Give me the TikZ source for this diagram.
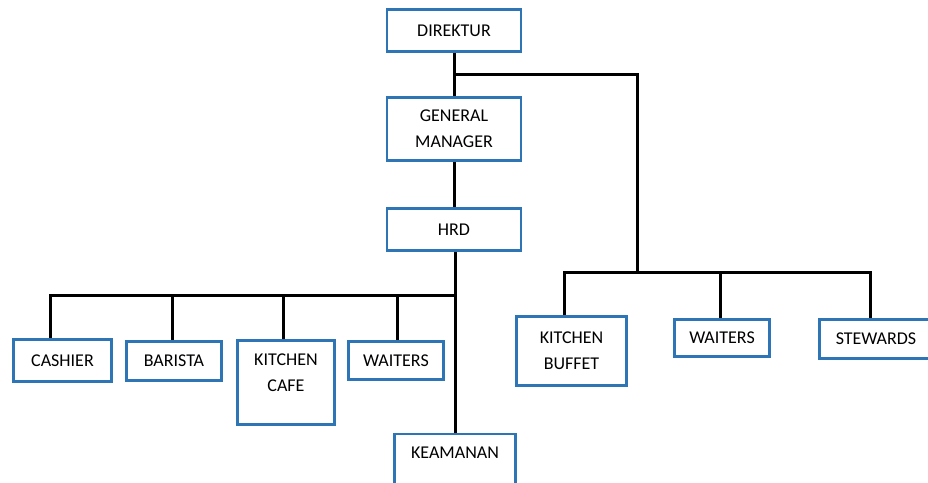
\documentclass[tikz,border=0pt]{standalone}
\usepackage{fontspec}
\setmainfont{Carlito}
\definecolor{boxblue}{RGB}{46,117,182}
\tikzset{unit/.style = {rectangle, draw=boxblue, line width=2.6pt, fill=white, align=center,
                        inner sep=0pt, font=\fontsize{18}{26}\selectfont},
         wire/.style = {line width=3pt, black, line join=miter}}

\begin{document}
\begin{tikzpicture}[x=1pt, y=-1pt]
    \useasboundingbox (0,0) rectangle (928,482);
    % top of the chart
    \node[unit, minimum width=134pt, minimum height=42pt] (dir) at (454,30.5) {DIREKTUR};
    \node[unit, minimum width=134pt, minimum height=63pt] (gm) at (454,129) {GENERAL\\MANAGER};
    \node[unit, minimum width=134pt, minimum height=42pt] (hrd) at (454,229.5) {HRD};
    % cafe side
    \node[unit, minimum width=98pt, minimum height=42pt] (cash) at (62.5,360.5) {CASHIER};
    \node[unit, minimum width=95pt, minimum height=39pt] (bar) at (174,361) {BARISTA};
    \node[unit, minimum width=97pt, minimum height=84pt, text depth=19pt] (kcafe) at (286,382.5) {KITCHEN\\CAFE};
    \node[unit, minimum width=95pt, minimum height=38pt] (wcafe) at (396,360.5) {WAITERS};
    \node[unit, minimum width=121pt, minimum height=54pt, text depth=16pt] (kea) at (455,461) {KEAMANAN};
    % buffet side
    \node[unit, minimum width=110pt, minimum height=69pt] (kbuf) at (571.5,351) {KITCHEN\\BUFFET};
    \node[unit, minimum width=95pt, minimum height=37pt] (wbuf) at (722,338) {WAITERS};
    \node[unit, minimum width=113pt, minimum height=39pt] (stew) at (876,339) {STEWARDS};
    % junctions
    \coordinate (j1) at (454,74);  \coordinate (j2) at (637,272);  \coordinate (j3) at (454,295);
    \coordinate (l1) at (50,295);  \coordinate (l2) at (172,295);
    \coordinate (l3) at (283,295); \coordinate (l4) at (397,295);
    \coordinate (r1) at (564,272); \coordinate (r2) at (720,272); \coordinate (r3) at (870,272);
    % connectors
    \draw[wire] (dir) -- (gm);
    \draw[wire] (gm) -- (hrd);
    \draw[wire] (hrd.south -| kea) -- (kea);
    \draw[wire] (j1) -| (j2);
    \draw[wire] (r1 |- kbuf.north) -- (r1) -- (r3) -- (r3 |- stew.north);
    \draw[wire] (r2) -- (r2 |- wbuf.north);
    \draw[wire] (l1 |- cash.north) -- (l1) -- (j3);
    \draw[wire] (l2) -- (l2 |- bar.north);
    \draw[wire] (l3) -- (l3 |- kcafe.north);
    \draw[wire] (l4) -- (l4 |- wcafe.north);
\end{tikzpicture}
\end{document}
